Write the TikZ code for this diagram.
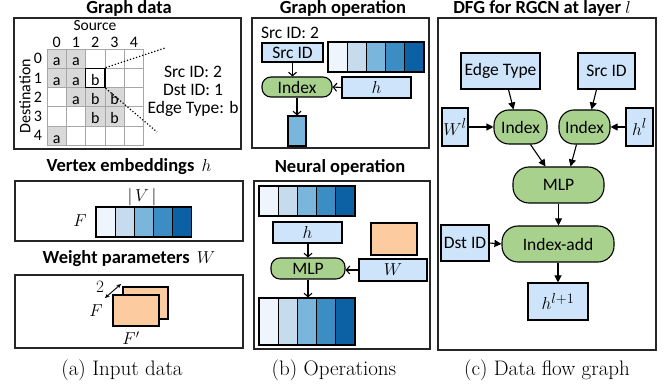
\documentclass[tikz,border=0pt]{standalone}
\usepackage{fontspec}
\newfontfamily\calfnt{Carlito}
\usetikzlibrary{arrows.meta}
\definecolor{lblue}{HTML}{CDE4FA}
\definecolor{lgreen}{HTML}{A9D18E}
\definecolor{cgray}{HTML}{D9D9D9}
\definecolor{orng}{HTML}{FCCBA0}
\definecolor{bA}{HTML}{EFF5FC}
\definecolor{bB}{HTML}{C6DBEB}
\definecolor{bC}{HTML}{7AB6DB}
\definecolor{bD}{HTML}{3B8DC4}
\definecolor{bE}{HTML}{0B61A4}
\begin{document}
\begin{tikzpicture}[x=1pt,y=-1pt,
  panel/.style={draw=black!85, line width=1.3pt},
  lbl/.style={font=\calfnt\fontsize{17.5}{20}\selectfont, inner sep=0pt},
  slbl/.style={font=\calfnt\fontsize{16}{18}\selectfont, inner sep=0pt},
  ttl/.style={font=\calfnt\bfseries\fontsize{18.5}{22}\selectfont, inner sep=0pt, anchor=base},
  captxt/.style={font=\fontsize{21}{24}\selectfont, inner sep=0pt},
  bbox/.style={draw, line width=1.1pt, fill=lblue, inner sep=0pt, lbl},
  gbox/.style={draw, line width=1.1pt, fill=lgreen, rounded corners=9pt, inner sep=0pt, lbl},
  cellbox/.style={draw, line width=1.1pt, inner sep=0pt, minimum width=19.2pt},
  orect/.style={draw, line width=1.1pt, fill=orng, inner sep=0pt},
  oarr/.style={-{Straight Barb[length=3.5pt,width=8pt]}, line width=1.1pt},
  farr/.style={-{Triangle[length=7pt,width=7pt]}, line width=1.1pt},
  gl/.style={draw=black!35, line width=0.8pt}
]
\useasboundingbox[fill=white] (0,0) rectangle (672,387);

% ================= (a) =================
\node[ttl] (tgraph) at (129,14) {Graph data};
\draw[panel] (14,18) rectangle (241,149);
\node[slbl, anchor=base, font=\calfnt\fontsize{15.5}{17}\selectfont] (source) at (95,31) {Source};
\node[slbl, rotate=90] (dest) at (25,96) {Destination};
\foreach \ro/\co in {0/0,0/1,1/0,1/1,2/1,2/2,2/3,3/2,3/3,4/0}
  \fill[cgray] (47+19.3*\co,49+19.3*\ro) rectangle ++(19.3,19.3);
\foreach \i in {0,...,5} {
  \draw[gl] (47+19.3*\i,49) -- (47+19.3*\i,145.5);
  \draw[gl] (47,49+19.3*\i) -- (143.5,49+19.3*\i);
}
\foreach \i in {0,...,4} {
  \node[slbl, anchor=base] (col\i) at (47+19.3*\i+9.65,47.5) {\i};
  \node[slbl] (row\i) at (38,49+19.3*\i+9.65) {\i};
}
\foreach \ro/\co/\t in {0/0/a,0/1/a,1/0/a,1/1/a,1/2/b,2/1/a,2/2/b,2/3/b,3/2/b,3/3/b,4/0/a}
  \node[slbl, anchor=base] (L\ro\co) at (47+19.3*\co+9.65,49+19.3*\ro+17) {\t};
\node[draw, line width=1.4pt, minimum width=19.3pt, minimum height=19.3pt, inner sep=0pt] (sel) at (47+19.3*2+9.65,49+19.3+9.65) {};
\coordinate (dtop) at (165,48);
\coordinate (dbot) at (157,132);
\draw[dotted, line width=1.2pt] (sel.north east) -- (dtop);
\draw[dotted, line width=1.2pt] (sel.south east) -- (dbot);
\node[lbl, anchor=base] (isrc) at (193,78) {Src ID: 2};
\node[lbl, anchor=base] (idst) at (193,96) {Dst ID: 1};
\node[lbl, anchor=base] (ityp) at (193,114) {Edge Type: b};

\node[ttl] (tvert) at (129,172) {Vertex embeddings\, $h$};
\draw[panel] (15,181) rectangle (243,241);
\node[lbl] (vlab) at (142,197) {$|\,V\,|$};
\node[lbl] (flab) at (80,221) {$F$};
\foreach \i/\c in {1/bA,2/bB,3/bC,4/bD,5/bE}
  \node[cellbox, fill=\c, minimum height=30pt] (vbar\i) at (96+19.1*\i-9.55,222) {};

\node[ttl] (tweight) at (129,264) {Weight parameters\, $W$};
\draw[panel] (15,275) rectangle (243,348);
\node[orect, minimum width=45pt, minimum height=32pt] (wback) at (145.5,303) {};
\node[orect, minimum width=46pt, minimum height=31pt] (wfront) at (136,310.5) {};
\node[lbl] (two) at (100,287) {$2$};
\coordinate (da) at (105,298);
\coordinate (db) at (121,284);
\draw[{Stealth[length=4.5pt,width=4pt]}-{Stealth[length=4.5pt,width=4pt]}, line width=0.9pt] (da) -- (db);
\node[lbl] (wf) at (96,311) {$F$};
\node[lbl] (wfp) at (131,338) {$F'$};
\node[captxt] (capa) at (122,370) {(a) Input data};

% ================= (b) =================
\node[ttl] (tgop) at (343,14) {Graph operation};
\draw[panel] (252,18) rectangle (429,148);
\node[lbl] (srcid2t) at (290,33) {Src ID: 2};
\node[bbox, minimum width=61pt, minimum height=19pt] (bsrc) at (292.5,52.5) {Src ID};
\foreach \i/\c in {1/bA,2/bB,3/bC,4/bD,5/bE}
  \node[cellbox, fill=\c, minimum height=30pt] (gbar\i) at (328+19.2*\i-9.6,57) {};
\node[gbox, minimum width=70pt, minimum height=20pt] (bidx) at (297,87) {Index};
\node[bbox, minimum width=69pt, minimum height=21pt] (bh) at (376.5,87.5) {$h$};
\node[cellbox, fill=bC, minimum width=18pt, minimum height=30pt] (bsmall) at (297,131) {};
\draw[oarr] (bsrc.south) -- (bsrc.south |- bidx.north);
\draw[oarr] (bh.west) -- (bidx.east);
\draw[oarr] (bidx.south) -- (bsmall.north);

\node[ttl] (tnop) at (340,173) {Neural operation};
\draw[panel] (254,181) rectangle (430,349);
\foreach \i/\c in {1/bA,2/bB,3/bC,4/bD,5/bE}
  \node[cellbox, fill=\c, minimum height=30pt] (nbar\i) at (259+19.2*\i-9.6,201) {};
\node[bbox, minimum width=69pt, minimum height=21pt] (nh) at (307.5,232.5) {$h$};
\node[orect, minimum width=46pt, minimum height=32pt] (norange) at (394,239) {};
\node[gbox, minimum width=74pt, minimum height=21pt] (nmlp) at (308,268.5) {MLP};
\node[bbox, minimum width=68pt, minimum height=22pt] (nw) at (393,270) {$W$};
\foreach \i/\c in {1/bA,2/bB,3/bC,4/bD,5/bE}
  \node[cellbox, fill=\c, minimum height=47pt] (obar\i) at (259+19.2*\i-9.6,321.5) {};
\draw[oarr] (nh.south -| nmlp.south) -- (nmlp.north);
\draw[oarr] (nw.west) -- (nw.west -| nmlp.east);
\draw[oarr] (nmlp.south) -- (nmlp.south |- obar3.north);
\node[captxt] (capb) at (334,370) {(b) Operations};

% ================= (c) =================
\node[ttl] (tdfg) at (542,14) {DFG for RGCN at layer $l$};
\draw[panel] (438,18) rectangle (656,350);
\node[bbox, minimum width=79pt, minimum height=36pt] (cet) at (500.5,71) {Edge Type};
\node[bbox, minimum width=57pt, minimum height=36pt] (csrc) at (606.5,71) {Src ID};
\node[bbox, minimum width=26pt, minimum height=38pt, font=\fontsize{19}{22}\selectfont] (cwl) at (455,127) {$W^l$};
\node[gbox, rounded corners=15pt, minimum width=53pt, minimum height=34pt] (cidx1) at (520.5,127) {Index};
\node[gbox, rounded corners=15pt, minimum width=51pt, minimum height=34pt] (cidx2) at (584.5,127) {Index};
\node[bbox, minimum width=27pt, minimum height=38pt, font=\fontsize{19}{22}\selectfont] (chl) at (639.5,127) {$h^l$};
\node[gbox, rounded corners=16pt, minimum width=91pt, minimum height=36pt] (cmlp) at (558.5,185) {MLP};
\node[gbox, rounded corners=16pt, minimum width=112pt, minimum height=36pt] (cadd) at (558,244) {Index-add};
\node[bbox, minimum width=48pt, minimum height=36pt] (cdst) at (465,243) {Dst ID};
\node[bbox, minimum width=60pt, minimum height=37pt, font=\fontsize{19}{22}\selectfont] (chn) at (558,301.5) {$h^{l+1}$};
\draw[farr] ([xshift=8pt]cet.south) -- ([xshift=-7pt]cidx1.north);
\draw[farr] ([xshift=-10pt]csrc.south) -- ([xshift=7pt]cidx2.north);
\draw[farr] (cwl.east) -- (cidx1.west);
\draw[farr] (chl.west) -- (cidx2.east);
\draw[farr] ([xshift=10pt]cidx1.south) -- ([xshift=-13pt]cmlp.north);
\draw[farr] ([xshift=-8pt]cidx2.south) -- ([xshift=12pt]cmlp.north);
\draw[farr] (cmlp.south) -- (cmlp.south |- cadd.north);
\draw[farr] (cdst.east) -- (cadd.west);
\draw[farr] (cadd.south) -- (chn.north);
\node[captxt] (capc) at (547,370) {(c) Data flow graph};
\end{tikzpicture}
\end{document}
